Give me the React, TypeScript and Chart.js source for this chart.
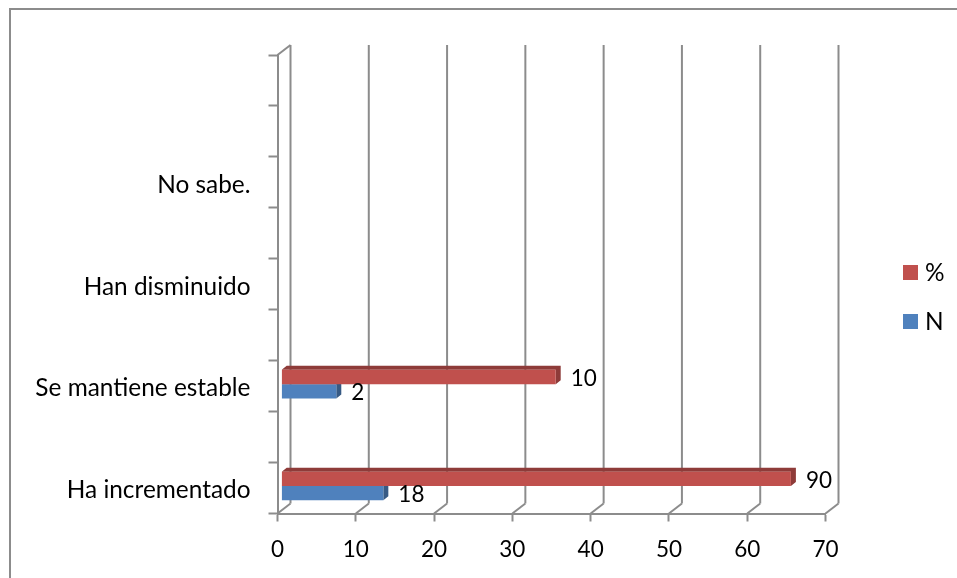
import React, { useEffect, useRef } from "react";
import { Chart, registerables } from "chart.js";

Chart.register(...registerables);

// Every band of the category axis has a tick; only alternate bands are named.
const categories = [
  "Ha incrementado", "",
  "Se mantiene estable", "",
  "Han disminuido", "",
  "No sabe.", "",
  "",
];
const percentValues = [90, null, 10, null, null, null, null, null, null];
const countValues = [18, null, 2, null, null, null, null, null, null];
const axisTicks = [0, 10, 20, 30, 40, 50, 60, 70];

const GRID = "#8c8c8c";
const RED = "#c0504d";
const RED_DARK = "#8e3b39";
const BLUE = "#4f81bd";
const BLUE_DARK = "#375a84";
const FONT = "Lato";
const TEXT_SIZE = 24.4;
const DIGIT_SIZE = 22.5;

// Floor depth of the box, and the depth of a bar.
const WALL_DX = 13;
const WALL_DY = 10;
const BAR_DX = 5;
const BAR_DY = 4;
// Bars stand in the middle of the floor.
const MID_DX = 4.2;
const MID_DY = -2;

// Each series runs on its own hidden scale spanning the same pixels as the axis.
const SERIES_SPAN = 186.4;
const COUNT_MIN = -16.57;
const PERCENT_MIN = -83.2;

const boxPlugin = {
  id: "box3d",
  beforeDatasetsDraw(chart: any) {
    const { ctx, chartArea: a, scales } = chart;
    ctx.save();
    ctx.strokeStyle = GRID;
    ctx.lineWidth = 2;
    const wallTop = a.top - WALL_DY;
    const wallBottom = a.bottom - WALL_DY;
    const line = (x1: number, y1: number, x2: number, y2: number) => {
      ctx.beginPath();
      ctx.moveTo(x1, y1);
      ctx.lineTo(x2, y2);
      ctx.stroke();
    };
    axisTicks.forEach((t) => {
      const x = scales.x.getPixelForValue(t);
      line(x + WALL_DX, wallTop, x + WALL_DX, wallBottom);
      line(x, a.bottom, x + WALL_DX, wallBottom);
    });
    line(a.left, a.top, a.left + WALL_DX, wallTop);
    ctx.restore();

    // Side and top faces go first so the bar fronts cover their inner edges.
    ctx.save();
    ctx.translate(MID_DX, MID_DY);
    chart.data.datasets.forEach((ds: any, i: number) => {
      chart.getDatasetMeta(i).data.forEach((bar: any, j: number) => {
        if (ds.data[j] == null) return;
        const top = bar.y - bar.height / 2;
        const bottom = bar.y + bar.height / 2;
        ctx.fillStyle = ds.sideColor;
        ctx.beginPath();
        ctx.moveTo(bar.base, top);
        ctx.lineTo(bar.base + BAR_DX, top - BAR_DY);
        ctx.lineTo(bar.x + BAR_DX, top - BAR_DY);
        ctx.lineTo(bar.x + BAR_DX, bottom - BAR_DY);
        ctx.lineTo(bar.x, bottom);
        ctx.lineTo(bar.x, top);
        ctx.closePath();
        ctx.fill();
      });
    });
    // Left open for afterDatasetsDraw, so the fronts share the same shift.
  },
  afterDatasetsDraw(chart: any) {
    const { ctx } = chart;
    ctx.fillStyle = "#000";
    ctx.font = `${DIGIT_SIZE}px ${FONT}`;
    ctx.textAlign = "left";
    ctx.textBaseline = "middle";
    chart.data.datasets.forEach((ds: any, i: number) => {
      chart.getDatasetMeta(i).data.forEach((bar: any, j: number) => {
        const v = ds.data[j];
        if (v == null) return;
        ctx.fillText(String(v), bar.x + 15, bar.y + 1.5);
      });
    });
    ctx.restore();
  },
  afterDraw(chart: any) {
    const { ctx } = chart;
    ctx.save();
    ctx.font = `${TEXT_SIZE}px ${FONT}`;
    ctx.textAlign = "left";
    ctx.textBaseline = "middle";
    chart.data.datasets.forEach((ds: any, i: number) => {
      const y = 272.5 + i * 49;
      ctx.fillStyle = ds.backgroundColor;
      ctx.fillRect(903, y - 7.5, 15, 15);
      ctx.fillStyle = "#000";
      ctx.fillText(ds.label, 925, y + 1);
    });
    ctx.restore();
  },
};

export default function App() {
  const ref = useRef<HTMLCanvasElement>(null);

  useEffect(() => {
    const chart = new Chart(ref.current!, {
      type: "bar",
      data: {
        labels: categories,
        datasets: [
          {
            label: "%",
            data: percentValues,
            xAxisID: "xPercent",
            base: PERCENT_MIN,
            backgroundColor: RED,
            sideColor: RED_DARK,
          },
          {
            label: "N",
            data: countValues,
            xAxisID: "xCount",
            base: COUNT_MIN,
            backgroundColor: BLUE,
            sideColor: BLUE_DARK,
          },
        ] as any,
      },
      options: {
        indexAxis: "y",
        animation: false,
        responsive: false,
        layout: { padding: { top: 55, right: 131.5, left: 0, bottom: 0 } },
        datasets: { bar: { barPercentage: 1, categoryPercentage: 0.56 } },
        plugins: { legend: { display: false }, tooltip: { enabled: false } },
        scales: {
          x: {
            type: "linear",
            min: 0,
            max: 70,
            afterFit: (s: any) => { s.height = 64.5; },
            afterBuildTicks: (s: any) => { s.ticks = axisTicks.map((value) => ({ value })); },
            border: { color: GRID, width: 2 },
            grid: { drawOnChartArea: false, drawTicks: true, tickLength: 8, tickColor: GRID, tickWidth: 2 },
            ticks: { color: "#000", font: { family: FONT, size: DIGIT_SIZE }, padding: 15, maxRotation: 0 },
          },
          xPercent: { type: "linear", display: false, min: PERCENT_MIN, max: PERCENT_MIN + SERIES_SPAN },
          xCount: { type: "linear", display: false, min: COUNT_MIN, max: COUNT_MIN + SERIES_SPAN },
          y: {
            type: "category",
            reverse: true,
            afterFit: (s: any) => { s.width = 277.5; },
            border: { color: GRID, width: 2 },
            grid: { offset: true, drawOnChartArea: false, drawTicks: true, tickLength: 9, tickColor: GRID, tickWidth: 2 },
            ticks: { color: "#000", font: { family: FONT, size: TEXT_SIZE }, padding: 18, autoSkip: false, labelOffset: 2.5 },
          },
        },
      } as any,
      plugins: [boxPlugin],
    });
    return () => chart.destroy();
  }, []);

  return (
    <div style={{ position: "absolute", left: 0, top: 0, width: 957, height: 578, overflow: "hidden", background: "#fff" }}>
      <canvas ref={ref} width={957} height={578} style={{ display: "block" }} />
      <div
        style={{
          position: "absolute", left: 8.5, top: 8, right: -4, bottom: -4,
          borderLeft: `2px solid ${GRID}`, borderTop: `2px solid ${GRID}`,
        }}
      />
    </div>
  );
}
